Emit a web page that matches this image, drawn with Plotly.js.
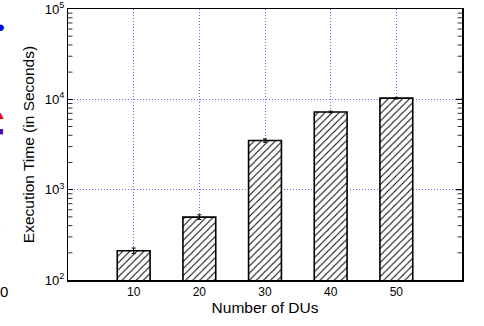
<!DOCTYPE html>
<html>
<head>
<meta charset="utf-8">
<script src="https://cdn.plot.ly/plotly-3.0.1.min.js"></script>
<style>html,body{margin:0;padding:0;background:#fff;}#chart{width:484px;height:326px;}</style>
</head>
<body>
<div id="chart"></div>
<script>
var dus = [10, 20, 30, 40, 50];
var execTimes = [211, 497, 3500, 7250, 10300];
var execErrors = [15, 30, 150, 150, 200];
var xTickVals = [10, 20, 30, 40, 50];
var xTickText = ['10', '20', '30', '40', '50'];

var trace = {
  type: 'bar',
  x: dus,
  y: execTimes,
  width: 5,
  marker: {
    color: '#ffffff',
    line: {color: '#000000', width: 1.6},
    pattern: {shape: '/', fgcolor: '#000000', bgcolor: '#ffffff', size: 5, solidity: 0.2}
  },
  error_y: {type: 'data', array: execErrors, visible: true, color: '#000000', thickness: 1, width: 2}
};

var annFont = {family: 'Liberation Sans, Arial, sans-serif', size: 15};
function px(p) { return (p - 68) / 394; }
function py(p) { return (280 - p) / 271.5; }

// minor log ticks (2..9 per decade) on both sides, inside the frame
var yMin = 2, yMax = 5;
var shapes = [];
var tl = 4.5 / 394;
for (var d = yMin; d < yMax; d++) {
  for (var m = 2; m <= 9; m++) {
    var f = (d + Math.log10(m) - yMin) / (yMax - yMin);
    shapes.push({type: 'line', xref: 'paper', yref: 'paper', x0: 0, x1: tl, y0: f, y1: f, layer: 'above', line: {color: '#333', width: 1}});
    shapes.push({type: 'line', xref: 'paper', yref: 'paper', x0: 1 - tl, x1: 1, y0: f, y1: f, layer: 'above', line: {color: '#333', width: 1}});
  }
}
for (var d2 = yMin + 1; d2 < yMax; d2++) {
  var g = (d2 - yMin) / (yMax - yMin);
  shapes.push({type: 'line', xref: 'paper', yref: 'paper', x0: 1 - 6 / 394, x1: 1, y0: g, y1: g, layer: 'above', line: {color: '#000', width: 1.2}});
}

var gridCol = 'rgba(80,80,255,0.85)';
var layout = {
  width: 484, height: 326,
  margin: {l: 68, r: 22, t: 8.5, b: 46, pad: 0},
  paper_bgcolor: '#ffffff', plot_bgcolor: '#ffffff',
  showlegend: false,
  font: {family: 'Liberation Sans, Arial, sans-serif', color: '#000000', size: 10},
  xaxis: {
    range: [0, 60],
    tickvals: xTickVals, ticktext: xTickText,
    ticks: '', showline: true, linecolor: '#000', linewidth: 1.5, mirror: true,
    showgrid: true, gridcolor: gridCol, griddash: '1px,2px', gridwidth: 1,
    zeroline: false,
    tickfont: {size: 12},
    title: {text: 'Number of DUs', font: {size: 15.5}, standoff: 0}
  },
  yaxis: {
    type: 'log',
    range: [yMin, yMax],
    dtick: 1,
    exponentformat: 'power',
    ticks: 'inside', ticklen: 5, tickcolor: '#000',
    showline: true, linecolor: '#000', linewidth: 1.5, mirror: true,
    showgrid: true, gridcolor: gridCol, griddash: '1px,2px', gridwidth: 1,
    zeroline: false,
    tickfont: {size: 10.5},
    title: {text: 'Execution Time (in Seconds)', font: {size: 15.5}, standoff: 6}
  },
  shapes: shapes,
  annotations: [
    {xref: 'paper', yref: 'paper', x: px(0), y: py(26), text: '●', showarrow: false, font: {size: 15, color: '#0000ff'}, xanchor: 'center', yanchor: 'middle'},
    {xref: 'paper', yref: 'paper', x: px(0), y: py(115), text: '▲', showarrow: false, font: {size: 11, color: '#ff0000'}, xanchor: 'center', yanchor: 'middle'},
    {xref: 'paper', yref: 'paper', x: px(0), y: py(131), text: '■', showarrow: false, font: {size: 11, color: '#5a00a0'}, xanchor: 'center', yanchor: 'middle'},
    {xref: 'paper', yref: 'paper', x: px(-1), y: py(230), text: '⋮', showarrow: false, font: {size: 11, color: '#ff9900'}, xanchor: 'center', yanchor: 'middle'},
    {xref: 'paper', yref: 'paper', x: px(4), y: py(292), text: '0', showarrow: false, font: annFont, xanchor: 'center', yanchor: 'middle'}
  ]
};

Plotly.newPlot('chart', [trace], layout, {displayModeBar: false, staticPlot: true});
</script>
</body>
</html>
